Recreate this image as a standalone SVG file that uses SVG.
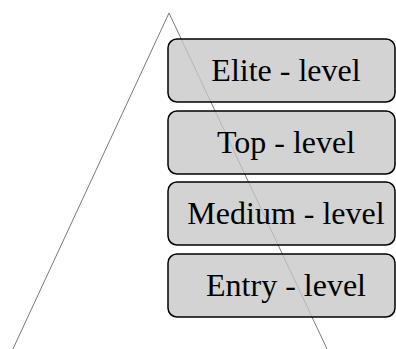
<svg xmlns="http://www.w3.org/2000/svg" width="396" height="349" viewBox="0 0 396 349">
<style>
.box{fill:#c6c6c6;fill-opacity:0.78;stroke:#000;stroke-width:1.5}
.lbl{font-family:"Liberation Serif","Times New Roman",serif;font-size:32px;fill:#000;text-anchor:middle}
.tri{fill:none;stroke:#7a7a7a;stroke-width:1}
</style>
<rect width="396" height="349" fill="#fff"/>
<g id="connectors">
<polyline class="tri" points="12,351 169,13 328,351"/>
</g>
<g id="elite"><rect class="box" x="168" y="39" width="227" height="63" rx="9"/><text class="lbl" x="286" y="81">Elite - level</text></g>
<g id="top"><rect class="box" x="168" y="111" width="227" height="63" rx="9"/><text class="lbl" x="286" y="153">Top - level</text></g>
<g id="medium"><rect class="box" x="168" y="182" width="227" height="63" rx="9"/><text class="lbl" x="286" y="224">Medium - level</text></g>
<g id="entry"><rect class="box" x="168" y="254" width="227" height="63" rx="9"/><text class="lbl" x="286" y="296">Entry - level</text></g>
</svg>
